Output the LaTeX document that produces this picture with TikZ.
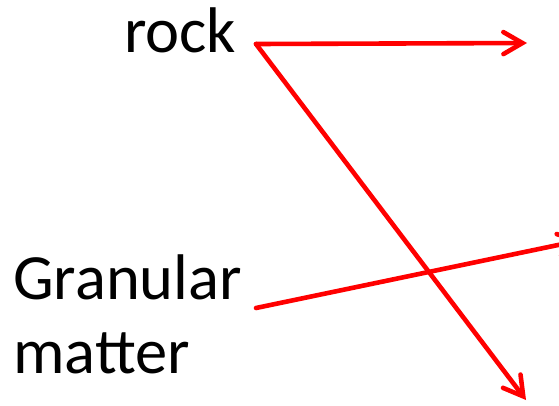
\documentclass[tikz,border=0pt]{standalone}
\usepackage{fontspec}
\setmainfont{Carlito}
\usetikzlibrary{arrows.meta}

\begin{document}
\begin{tikzpicture}[
  x=1pt, y=-1pt,
  word/.style={inner sep=0pt, align=left, font=\fontsize{64.5}{74}\selectfont},
  link/.style={red, line width=4.6pt, line cap=round, line join=round, -{Straight Barb[length=19pt, width=22pt, line cap=round]}}
]
\useasboundingbox (0,0) rectangle (559,405);
\clip (0,0) rectangle (559,405);
\node[word, anchor=base west] (rock) at (124,52) {rock};
\node[word, anchor=north west] (granular) at (13,255) {Granular\\matter};
\coordinate (rockout) at (256,44);
\coordinate (granout) at (256,308);
\coordinate (up) at (527,43);
\coordinate (down) at (526,400);
\coordinate (side) at (582,240);
\draw[link] (rockout) -- (up);
\draw[link] (rockout) -- (down);
\draw[link] (granout) -- (side);
\end{tikzpicture}
\end{document}
